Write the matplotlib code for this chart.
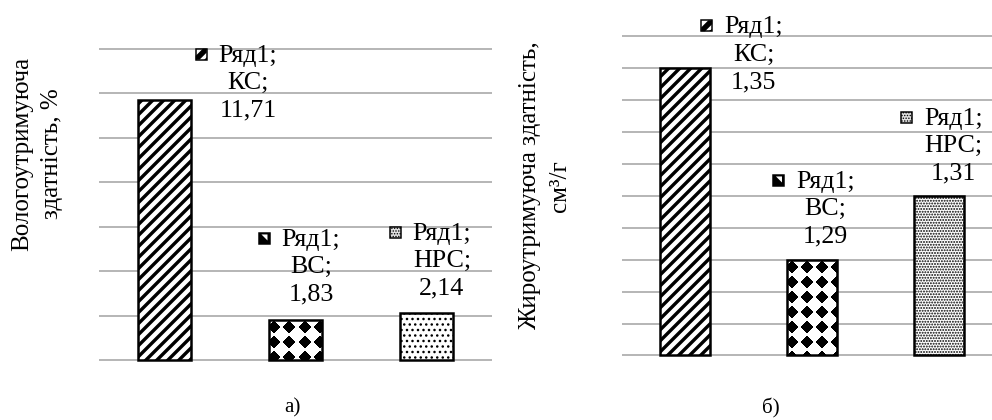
import numpy as np
import matplotlib
matplotlib.use('Agg')
import matplotlib.pyplot as plt
from matplotlib.patches import Rectangle, Polygon
from matplotlib.offsetbox import AnnotationBbox, DrawingArea, TextArea, HPacker

# data
series_name = 'Ряд1'
categories = ['КС', 'ВС', 'НРС']
water_values = [11.71, 1.83, 2.14]
fat_values = [1.35, 1.29, 1.31]
water_grid = [0, 2, 4, 6, 8, 10, 12, 14]
fat_grid = [1.26, 1.27, 1.28, 1.29, 1.30, 1.31, 1.32, 1.33, 1.34, 1.35, 1.36]
water_ylabel = 'Вологоутримуюча\nздатність, %'
fat_ylabel = 'Жироутримуюча здатність,\nсм³/г'
captions = ['а)', 'б)']

# figure set up in pixels; dpi chosen so the hatch spacing fits the reference
DPI = 66
W, H = 992, 420


def px(v):
    # pixels -> points
    return v * 72.0 / DPI


plt.rcParams['font.family'] = ['Liberation Serif', 'DejaVu Serif']
FS = px(26)

fig = plt.figure(figsize=(W / DPI, H / DPI), dpi=DPI)
fig.patch.set_facecolor('white')


def diamond_texture(ax, bar, period=15.0, x_off=5.0, y_off=8.0):
    bb = bar.get_window_extent()
    w = int(round(bb.width))
    h = int(round(bb.height))
    yy, xx = np.mgrid[0:h, 0:w] + 0.5
    dx = (xx - x_off + period / 2) % period - period / 2
    dy = (yy - y_off + period / 2) % period - period / 2
    img = np.where(np.abs(dx) + np.abs(dy) < 0.45 * period, 0.0, 1.0)
    x0, y0 = bar.get_x(), bar.get_y()
    im = ax.imshow(img, cmap='gray', vmin=0, vmax=1, origin='upper',
                   extent=(x0, x0 + bar.get_width(), y0, y0 + bar.get_height()),
                   aspect='auto', interpolation='nearest', zorder=2.5)
    im.set_clip_path(bar)


def key_box(kind):
    s = px(11)
    da = DrawingArea(s + px(1), px(15))
    if kind == 'slash':
        da.add_artist(Rectangle((0, 0), s, s, fc='white', ec='black', lw=px(1.5)))
        da.add_artist(Polygon([(0, 0), (s * 0.35, 0), (s, s * 0.65), (s, s), (s * 0.65, s), (0, s * 0.35)],
                              closed=True, fc='black', ec='none'))
        da.add_artist(Polygon([(s * 0.75, 0), (s, 0), (s, s * 0.25)], closed=True, fc='black', ec='none'))
    elif kind == 'diamond':
        da.add_artist(Rectangle((0, 0), s, s, fc='black', ec='black', lw=px(1.5)))
        da.add_artist(Polygon([(s * 0.25, s * 0.85), (s * 0.8, s * 0.3), (s * 0.8, s * 0.85)],
                              closed=True, fc='white', ec='none'))
    else:
        r = Rectangle((0, 0), s, s, fc='#e0e0e0', ec='black', lw=px(1.5), hatch='....')
        da.add_artist(r)
    return da


def data_label(ax, xi, val, cat, kind, dx, dy):
    txt = '%s;\n%s;\n%s' % (series_name, cat, ('%.2f' % val).replace('.', ','))
    ta = TextArea(txt, textprops=dict(fontsize=FS, color='black', multialignment='center',
                                      linespacing=1.32))
    box = HPacker(children=[key_box(kind), ta], align='top', pad=0, sep=px(11))
    ab = AnnotationBbox(box, (xi, val), xybox=(px(dx), px(dy)), xycoords='data',
                        boxcoords='offset points', box_alignment=(0.5, 0.0),
                        frameon=False, pad=0, zorder=5, annotation_clip=False)
    ax.add_artist(ab)


def draw_chart(ax, values, grid, label_offsets, dots):
    x = np.arange(len(categories))
    base = grid[0]
    span = grid[-1] - grid[0]
    heights = np.array(values) - base
    bars = ax.bar(x, heights, bottom=base, width=0.4, facecolor='white',
                  edgecolor='black', linewidth=px(2.5), zorder=3)
    bars[0].set_hatch('//')
    bars[2].set_hatch(dots[0])
    for b, lw in ((bars[0], px(3.4)), (bars[2], px(dots[1]))):
        if hasattr(b, 'set_hatch_linewidth'):
            b.set_hatch_linewidth(lw)
    bars[1].set_facecolor('none')
    ax.set_xlim(-0.5, len(categories) - 0.5)
    ax.set_ylim(base - span * 0.004, grid[-1] + span * 0.004)
    diamond_texture(ax, bars[1])
    ax.set_xlim(-0.5, len(categories) - 0.5)
    ax.set_ylim(base - span * 0.004, grid[-1] + span * 0.004)

    ax.set_yticks(grid)
    ax.set_xticks([])
    ax.grid(axis='y', color='#a6a6a6', linewidth=px(1.6), zorder=0)
    ax.set_axisbelow(True)
    ax.tick_params(length=0, labelleft=False, labelbottom=False)
    for sp in ax.spines.values():
        sp.set_visible(False)
    ax.patch.set_alpha(0)

    for i, (kind, off) in enumerate(zip(['slash', 'diamond', 'dots'], label_offsets)):
        data_label(ax, x[i], values[i], categories[i], kind, off[0], off[1])


ax1 = fig.add_axes([99 / W, 1 - 361.7 / H, 393 / W, 314.4 / H])
ax2 = fig.add_axes([621.5 / W, 1 - 356.7 / H, 381 / W, 321.7 / H])

draw_chart(ax1, water_values, water_grid, [(72, -22), (4, 14), (4, 13)], ('..', 1.4))
draw_chart(ax2, fat_values, fat_grid, [(57, -25), (2, 12), (3, 11)], ('....', 1.3))

fig.text(37 / W, 1 - 154 / H, water_ylabel, rotation=90, ha='center', va='center',
         multialignment='center', fontsize=px(25), linespacing=1.42)
fig.text(545 / W, 1 - 186 / H, fat_ylabel, rotation=90, ha='center', va='center',
         multialignment='center', fontsize=px(25), linespacing=1.42)

fig.text(292 / W, 1 - 408 / H, captions[0], ha='center', va='center', fontsize=px(21))
fig.text(771 / W, 1 - 408 / H, captions[1], ha='center', va='center', fontsize=px(21))

fig.savefig('out.png', dpi=DPI, facecolor='white')
